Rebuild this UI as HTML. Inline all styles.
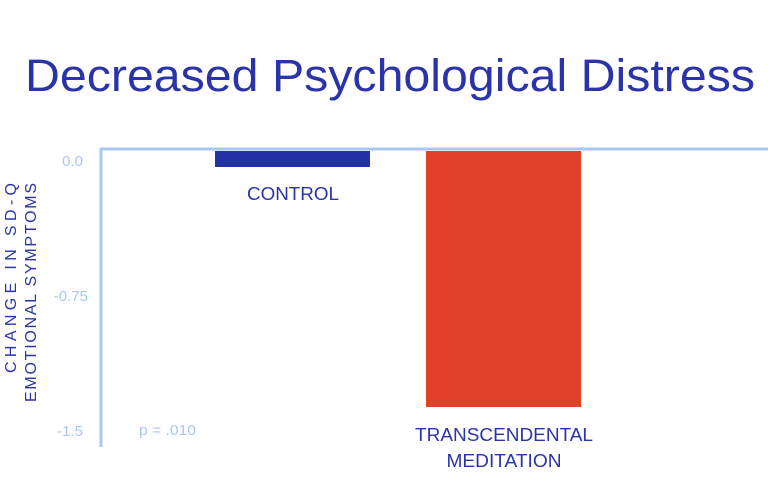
<!DOCTYPE html>
<html><head><style>body{margin:0;background:#fff}svg{display:block}</style></head>
<body>
<svg width="768" height="499" xmlns="http://www.w3.org/2000/svg" font-family="Liberation Sans, Arial, sans-serif">
<rect width="768" height="499" fill="#fff"/>
<text x="25" y="91" font-size="45" fill="#2b33a8" textLength="730" lengthAdjust="spacingAndGlyphs">Decreased Psychological Distress</text>
<line x1="100" y1="149" x2="768" y2="149" stroke="#a9c8f0" stroke-width="3"/>
<line x1="101" y1="148" x2="101" y2="447" stroke="#a9c8f0" stroke-width="3"/>
<rect x="215" y="151" width="155" height="16" fill="#2530a5"/>
<rect x="426" y="151" width="155" height="256" fill="#e04128"/>
<g fill="#a9c8f0" font-size="15" text-anchor="end">
<text x="83" y="166">0.0</text>
<text x="88" y="301">-0.75</text>
<text x="83" y="436">-1.5</text>
</g>
<text x="139" y="435" font-size="15" fill="#a9c8f0" textLength="57" lengthAdjust="spacingAndGlyphs">p = .010</text>
<g fill="#2b33a8" font-size="18" text-anchor="middle">
<text x="293" y="200" textLength="92" lengthAdjust="spacingAndGlyphs">CONTROL</text>
<text x="504" y="441" textLength="178" lengthAdjust="spacingAndGlyphs">TRANSCENDENTAL</text>
<text x="504" y="467" textLength="115" lengthAdjust="spacingAndGlyphs">MEDITATION</text>
</g>
<g fill="#2b33a8" font-size="16" text-anchor="end">
<text transform="translate(16,183) rotate(-90)" textLength="190" lengthAdjust="spacing">CHANGE IN SD-Q</text>
<text transform="translate(36,183) rotate(-90)" textLength="219" lengthAdjust="spacing">EMOTIONAL SYMPTOMS</text>
</g>
</svg>
</body></html>
